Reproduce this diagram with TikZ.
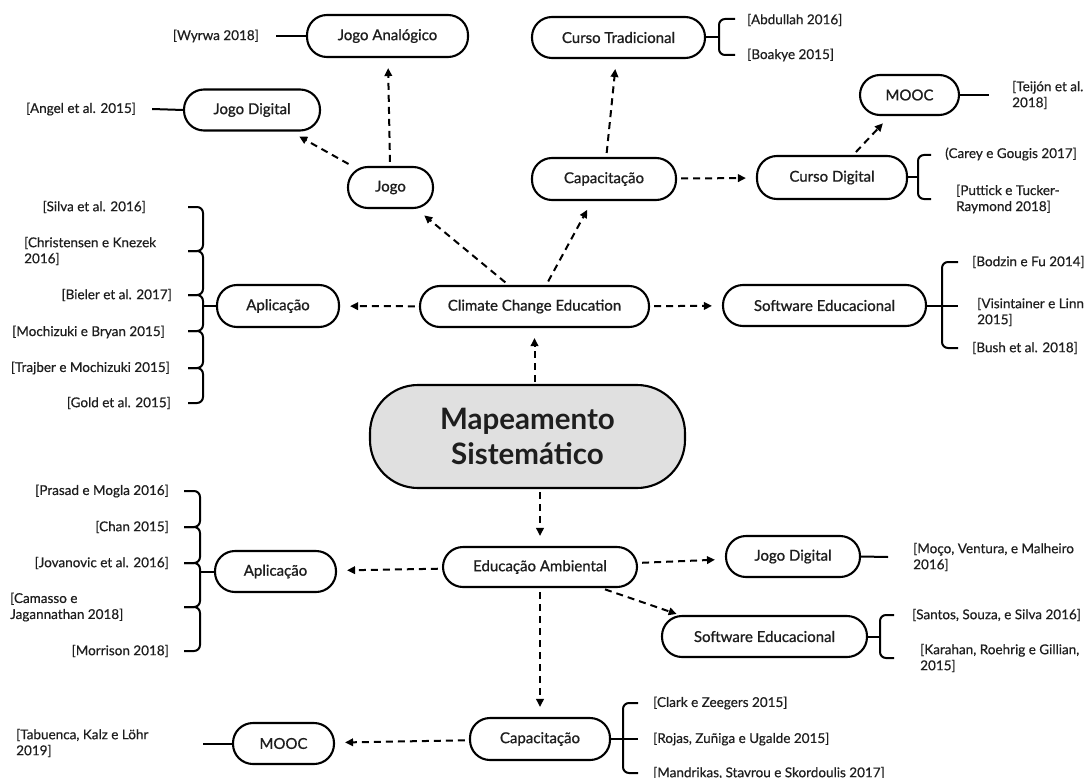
\documentclass[tikz,border=0pt]{standalone}
\usepackage{fontspec}
\setmainfont{Lato}
\newfontfamily\reffont{Lato}[FakeBold=0.5]
\newfontfamily\boxfont{Lato}[FakeBold=1.0]
\usetikzlibrary{arrows.meta}
\definecolor{txt}{RGB}{30,30,30}
\definecolor{mapfill}{RGB}{224,224,224}
\tikzset{
  box/.style={draw=black, line width=2.1pt, rounded corners=20pt, inner sep=0pt, text=txt, font=\boxfont\fontsize{15}{18}\selectfont, align=center},
  refl/.style={inner sep=0pt, text=txt, font=\reffont\fontsize{13.5}{16}\selectfont},
  arr/.style={line width=2pt, dash pattern=on 7pt off 5pt, -{Triangle[length=8pt,width=7.5pt]}, shorten >=10pt, shorten <=4pt},
  ln/.style={line width=2pt},
  brace/.style={line width=2pt, rounded corners=6pt},
}
\begin{document}
\begin{tikzpicture}[x=1pt,y=-1pt]
\useasboundingbox (0,0) rectangle (1091,778);

% ---------- boxes ----------
\node[box, minimum width=161, minimum height=42] (ja) at (387.5,36) {Jogo Analógico};
\node[box, minimum width=136, minimum height=41] (jd1) at (252,110) {Jogo Digital};
\node[box, minimum width=85, minimum height=41] (jogo) at (390.5,187.5) {Jogo};
\node[box, minimum width=173, minimum height=41] (ct) at (618.5,37.5) {Curso Tradicional};
\node[box, minimum width=99, minimum height=40] (mooc1) at (909.5,95) {MOOC};
\node[box, minimum width=144, minimum height=42] (cap1) at (604,179) {Capacitação};
\node[box, minimum width=150, minimum height=43] (cd) at (832,177.5) {Curso Digital};
\node[box, minimum width=122, minimum height=42] (apl1) at (278,306) {Aplicação};
\node[box, minimum width=229, minimum height=41] (cce) at (534.5,306.5) {Climate Change Education};
\node[box, minimum width=203, minimum height=41] (se1) at (824.5,305.5) {Software Educacional};
\node[box, fill=mapfill, minimum width=315, minimum height=103, rounded corners=48pt,
      font=\fontsize{29.5}{35}\selectfont\bfseries] (map) at (527.5,436.5) {Mapeamento\\Sistemático};
\node[box, minimum width=121, minimum height=41] (apl2) at (275.5,571.5) {Aplicação};
\node[box, minimum width=194, minimum height=40] (ea) at (540,567) {Educação Ambiental};
\node[box, minimum width=134, minimum height=41] (jd2) at (793,556.5) {Jogo Digital};
\node[box, minimum width=205, minimum height=41] (se2) at (764.5,636.5) {Software Educacional};
\node[box, minimum width=140, minimum height=42] (cap2) at (540,739) {Capacitação};
\node[box, minimum width=101, minimum height=41] (mooc2) at (283.5,743.5) {MOOC};

% ---------- reference labels ----------
\node[refl, anchor=east] (wyrwa) at (259,36) {[Wyrwa 2018]};
\node[refl, anchor=west] (angel) at (26,109) {[Angel et al. 2015]};
\node[refl, anchor=west] (abdullah) at (747,20) {[Abdullah 2016]};
\node[refl, anchor=west] (boakye) at (747,55) {[Boakye 2015]};
\node[refl, anchor=west, align=left] (teijon) at (1012,95) {[Teijón et al.\\2018]};
\node[refl, anchor=west] (carey) at (945,154) {(Carey e Gougis 2017]};
\node[refl, anchor=west, align=left] (puttick) at (956,199) {[Puttick e Tucker-\\Raymond 2018]};

\node[refl, anchor=east] (silva) at (146,207) {[Silva et al. 2016]};
\node[refl, anchor=west, align=left] (christ) at (24,251) {[Christensen e Knezek\\2016]};
\node[refl, anchor=east] (bieler) at (172,295) {[Bieler et al. 2017]};
\node[refl, anchor=east] (mochi) at (165,332) {[Mochizuki e Bryan 2015]};
\node[refl, anchor=east] (trajber) at (170,368) {[Trajber e Mochizuki 2015]};
\node[refl, anchor=east] (gold) at (171,403) {[Gold et al. 2015]};

\node[refl, anchor=west] (bodzin) at (972,262) {[Bodzin e Fu 2014]};
\node[refl, anchor=west, align=left] (visin) at (977,312) {[Visintainer e Linn\\2015]};
\node[refl, anchor=west] (bush) at (972,348) {[Bush et al. 2018]};

\node[refl, anchor=east] (prasad) at (169,491) {[Prasad e Mogla 2016]};
\node[refl, anchor=east] (chan) at (169,527) {[Chan 2015]};
\node[refl, anchor=east] (jovan) at (169,563) {[Jovanovic et al. 2016]};
\node[refl, anchor=west, align=left] (camasso) at (10,607) {[Camasso e\\Jagannathan 2018]};
\node[refl, anchor=east] (morrison) at (169,651) {[Morrison 2018]};

\node[refl, anchor=west, align=left] (moco) at (913,557) {[Moço, Ventura, e Malheiro\\2016]};
\node[refl, anchor=west] (santos) at (912,615) {[Santos, Souza, e Silva 2016]};
\node[refl, anchor=west, align=left] (karahan) at (920,658) {[Karahan, Roehrig e Gillian,\\2015]};

\node[refl, anchor=west] (clark) at (653,703) {[Clark e Zeegers 2015]};
\node[refl, anchor=west] (rojas) at (653,739) {[Rojas, Zuñiga e Ugalde 2015]};
\node[refl, anchor=west] (mandrikas) at (653,773) {[Mandrikas, Stavrou e Skordoulis 2017]};
\node[refl, anchor=west, align=left] (tabuenca) at (16,743) {[Tabuenca, Kalz e Löhr\\2019]};

% ---------- plain links ----------
\draw[ln] (ja.west) -- ([xshift=17pt]wyrwa.east);
\draw[ln] (jd1.west) -- ([xshift=16pt]angel.east);
\draw[ln] (mooc1.east) -- ([xshift=-23pt]teijon.west);
\draw[ln] (jd2.east) -- ([xshift=-25pt]moco.west);
\draw[ln] (mooc2.west) -- (203,743.5);

% ---------- braces ----------
\draw[ln] (ct.east) -- (719,37.5);
\draw[brace] (735,19) -- (719,19) -- (719,55) -- (735,55);
\draw[ln] (cd.east) -- (918,177.5);
\draw[brace] (931,155) -- (918,155) -- (918,199) -- (931,199);
\draw[ln] (se1.east) -- (958,305.5);
\draw[brace] (958,262) -- (942,262) -- (942,348) -- (958,348);
\draw[ln] (se2.east) -- (880,636.5);
\draw[brace] (894,615) -- (880,615) -- (880,658) -- (894,658);
\draw[ln] (cap2.east) -- (638,739);
\draw[brace] (638,703) -- (623,703) -- (623,773) -- (638,773);

\draw[ln] (apl1.west) -- (203,306);
\foreach \a/\b in {207/251,251/295,295/331,331/368,368/403}
  \draw[brace] (188,\a) -- (203,\a) -- (203,\b) -- (188,\b);
\draw[ln] (apl2.west) -- (200,571.5);
\foreach \a/\b in {491/527,527/563,563/607,607/651}
  \draw[brace] (184,\a) -- (200,\a) -- (200,\b) -- (184,\b);

% ---------- dashed arrows ----------
\draw[arr] (jogo) -- (ja);
\draw[arr] (jogo) -- (jd1);
\draw[arr] (cce) -- (jogo);
\draw[arr] (cce) -- (cap1);
\draw[arr] (cap1) -- (ct);
\draw[arr] (cap1) -- (cd);
\draw[arr] (cd) -- (mooc1);
\draw[arr] (cce) -- (apl1);
\draw[arr] (cce) -- (se1);
\draw[arr, shorten <=2pt] (map.north -| cce) -- (cce);
\draw[arr, shorten <=3pt] (map.south -| ea) -- (ea);
\draw[arr] (ea) -- (apl2);
\draw[arr] (ea) -- (jd2);
\draw[arr, shorten >=3pt] (ea) -- ([xshift=-85pt]se2.north);
\draw[arr] (ea) -- (cap2);
\draw[arr] (cap2) -- (mooc2);
\end{tikzpicture}
\end{document}
